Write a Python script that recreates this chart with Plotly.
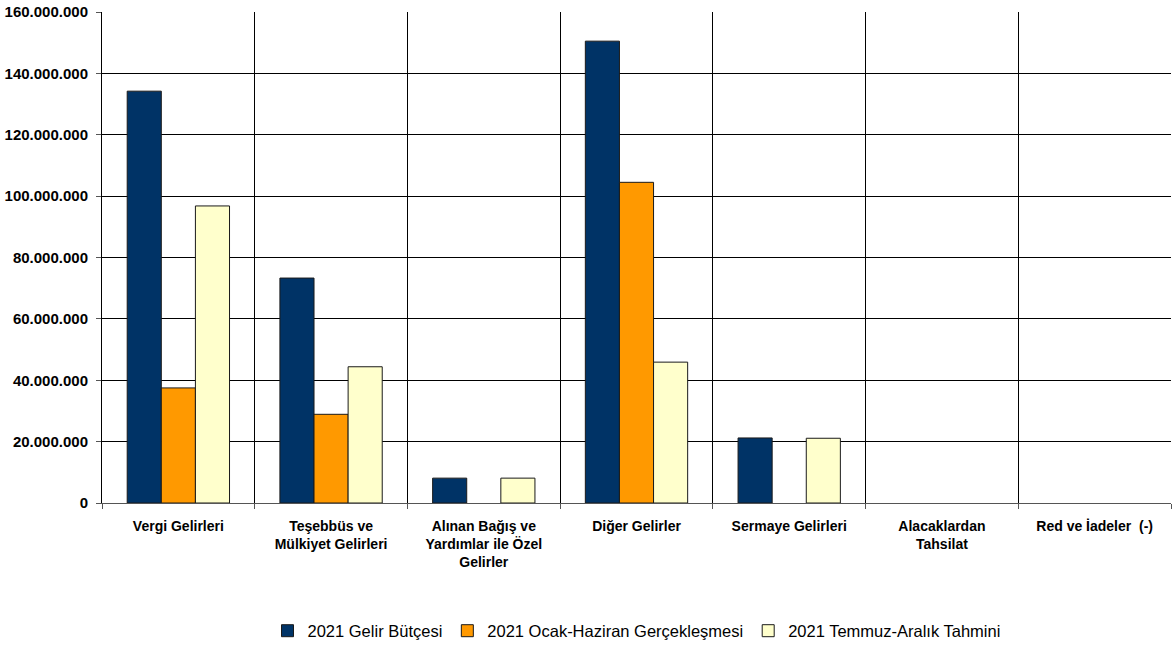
import plotly.graph_objects as go

categories = [
    "Vergi Gelirleri",
    "Teşebbüs ve<br>Mülkiyet Gelirleri",
    "Alınan Bağış ve<br>Yardımlar ile Özel<br>Gelirler",
    "Diğer Gelirler",
    "Sermaye Gelirleri",
    "Alacaklardan<br>Tahsilat",
    "Red ve İadeler  (-)",
]
butce = [134_200_000, 73_300_000, 8_100_000, 150_500_000, 21_200_000, 0, 0]
ocak_haziran = [37_500_000, 28_900_000, 0, 104_500_000, 0, 0, 0]
temmuz_aralik = [96_800_000, 44_400_000, 8_100_000, 45_900_000, 21_100_000, 0, 0]
y_ticks = [0, 20_000_000, 40_000_000, 60_000_000, 80_000_000, 100_000_000,
           120_000_000, 140_000_000, 160_000_000]

series = [
    ("2021 Gelir Bütçesi", butce, "#003366"),
    ("2021 Ocak-Haziran Gerçekleşmesi", ocak_haziran, "#FF9900"),
    ("2021 Temmuz-Aralık Tahmini", temmuz_aralik, "#FFFFCC"),
]

FONT = "Liberation Sans, Arial, sans-serif"

fig = go.Figure()
for name, vals, col in series:
    fig.add_trace(go.Bar(
        x=categories, y=vals, name=name,
        marker=dict(color=col,
                    line=dict(color="#1a1a1a", width=[1 if v else 0 for v in vals])),
    ))

fig.update_layout(
    width=1174, height=646,
    margin=dict(l=102, r=3, t=12, b=143, autoexpand=False),
    paper_bgcolor="white", plot_bgcolor="white",
    barmode="group", bargap=0.33, bargroupgap=0,
    separators=",.",
    font=dict(family=FONT, color="black"),
    showlegend=True,
    legend=dict(orientation="h", x=0.5, xanchor="center", y=-0.225, yanchor="top",
                font=dict(size=16.5, family=FONT),
                traceorder="normal", itemwidth=30),
    xaxis=dict(
        type="category", tickson="boundaries",
        showgrid=True, gridcolor="black", gridwidth=1,
        showline=True, linecolor="#555", linewidth=1,
        ticks="outside", ticklen=5, tickcolor="#555",
        tickfont=dict(size=14, family=FONT, weight="bold"),
        ticklabelstandoff=10,
    ),
    yaxis=dict(
        range=[0, 160_000_000], tickvals=y_ticks, tickformat=",.0f",
        showgrid=True, gridcolor="black", gridwidth=1,
        showline=True, linecolor="black", linewidth=1,
        ticks="outside", ticklen=5, tickcolor="#555",
        tickfont=dict(size=15, family=FONT, weight="bold"),
        ticklabelstandoff=5,
        zeroline=False,
    ),
)

fig.write_html("out.html", config={"displayModeBar": False},
               post_script="document.body.style.margin='0';")
